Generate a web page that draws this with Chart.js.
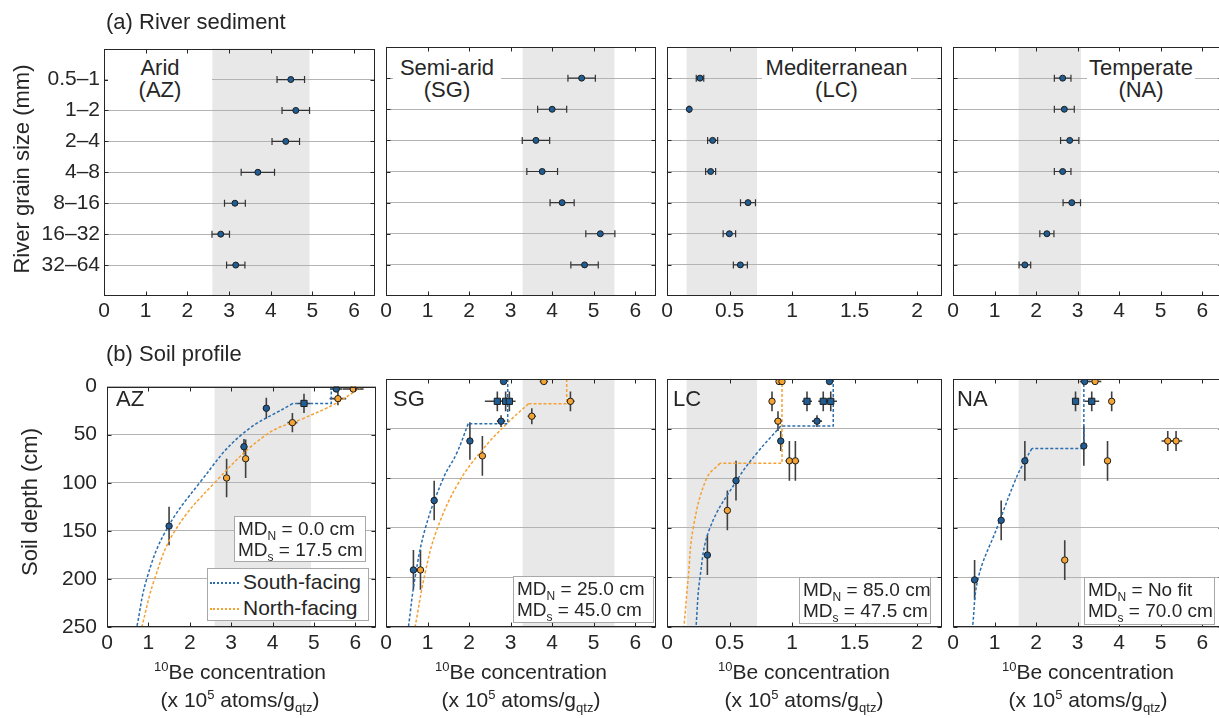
<!DOCTYPE html>
<html>
<head>
<meta charset="utf-8">
<script src="https://cdn.jsdelivr.net/npm/chart.js@4.4.1/dist/chart.umd.min.js"></script>
<style>
html, body { margin: 0; padding: 0; overflow: hidden; }
body { width: 1219px; height: 718px; position: relative; background: #fff;
       font-family: "Liberation Sans", Arial, sans-serif; color: #262626; }
canvas { position: absolute; }
.t { position: absolute; white-space: nowrap; z-index: 2; }
.head { font-size: 22px; line-height: 22px; }
.ytitle { font-size: 22px; line-height: 22px; width: 300px; text-align: center; transform: rotate(-90deg); }
.lbl { font-size: 22px; line-height: 22px; text-align: center; background: #fff; }
.tag { font-size: 22px; line-height: 22px; }
.md { background: #fff; border: 1px solid #a8a8a8; font-size: 19px; line-height: 21px;
      padding: 1px 3px; box-sizing: border-box; }
.md sub { font-size: 12px; line-height: 0; vertical-align: -5px; }
.leg { background: #fff; border: 1px solid #a8a8a8; font-size: 21px; line-height: 26px;
       padding: 0 2px; box-sizing: border-box; }
.leg span { display: inline-block; width: 29px; vertical-align: middle; margin-right: 4px; }
.xt { width: 300px; text-align: center; font-size: 21px; line-height: 28px; }
.xt sup { font-size: 13px; line-height: 0; vertical-align: 8px; }
.xt sub { font-size: 13px; line-height: 0; vertical-align: -5px; }
</style>
</head>
<body>
<div class="t head" style="left:106px;top:11px">(a) River sediment</div>
<div class="t head" style="left:106px;top:343px">(b) Soil profile</div>

<div class="t ytitle" style="left:-128px;top:158px">River grain size (mm)</div>
<div class="t ytitle" style="left:-120px;top:491px">Soil depth (cm)</div>

<div class="t lbl" style="left:108px;top:55px;width:104px;height:48px;padding-top:2px">Arid<br>(AZ)</div>
<div class="t lbl" style="left:393px;top:55px;width:108px;height:48px;padding-top:2px">Semi-arid<br>(SG)</div>
<div class="t lbl" style="left:762px;top:55px;width:149px;height:48px;padding-top:2px">Mediterranean<br>(LC)</div>
<div class="t lbl" style="left:1087px;top:55px;width:108px;height:48px;padding-top:2px">Temperate<br>(NA)</div>

<div class="t tag" style="left:116px;top:388px">AZ</div>
<div class="t tag" style="left:393px;top:388px">SG</div>
<div class="t tag" style="left:673px;top:388px">LC</div>
<div class="t tag" style="left:957px;top:388px">NA</div>

<div class="t md" style="left:234px;top:516px;width:132px;height:46px">MD<sub>N</sub> = 0.0 cm<br>MD<sub>s</sub> = 17.5 cm</div>
<div class="t md" style="left:513px;top:576px;width:141px;height:47px">MD<sub>N</sub> = 25.0 cm<br>MD<sub>s</sub> = 45.0 cm</div>
<div class="t md" style="left:799px;top:577px;width:132px;height:47px">MD<sub>N</sub> = 85.0 cm<br>MD<sub>s</sub> = 47.5 cm</div>
<div class="t md" style="left:1084px;top:577px;width:131px;height:48px">MD<sub>N</sub> = No fit<br>MD<sub>s</sub> = 70.0 cm</div>

<div class="t leg" style="left:207px;top:568px;width:162px;height:53px">
  <span style="border-top:2px dotted #2b6ead"></span>South-facing<br>
  <span style="border-top:2px dotted #f5a032"></span>North-facing
</div>

<div class="t xt" style="left:90px;top:658px"><sup>10</sup>Be concentration<br>(x 10<sup>5</sup> atoms/g<sub>qtz</sub>)</div>
<div class="t xt" style="left:371px;top:658px"><sup>10</sup>Be concentration<br>(x 10<sup>5</sup> atoms/g<sub>qtz</sub>)</div>
<div class="t xt" style="left:654px;top:658px"><sup>10</sup>Be concentration<br>(x 10<sup>5</sup> atoms/g<sub>qtz</sub>)</div>
<div class="t xt" style="left:938px;top:658px"><sup>10</sup>Be concentration<br>(x 10<sup>5</sup> atoms/g<sub>qtz</sub>)</div>

<script>
// ---- (a) river sediment: 10Be per grain size class ----
const grainSizes = ['0.5–1', '1–2', '2–4', '4–8', '8–16', '16–32', '32–64'];
const riverAZ    = [4.48, 4.60, 4.36, 3.69, 3.14, 2.80, 3.16];
const riverAZErr = [0.33, 0.33, 0.33, 0.40, 0.25, 0.21, 0.22];
const riverSG    = [4.71, 4.00, 3.61, 3.76, 4.24, 5.16, 4.78];
const riverSGErr = [0.33, 0.35, 0.33, 0.37, 0.29, 0.35, 0.33];
const riverLC    = [0.264, 0.178, 0.365, 0.349, 0.648, 0.499, 0.587];
const riverLCErr = [0.03, 0.005, 0.04, 0.04, 0.06, 0.05, 0.056];
const riverNA    = [2.64, 2.68, 2.81, 2.64, 2.86, 2.26, 1.73];
const riverNAErr = [0.20, 0.24, 0.22, 0.20, 0.21, 0.17, 0.14];

// shaded ranges (same in both rows)
const bandAZ = [2.6, 4.93];
const bandSG = [3.29, 5.5];
const bandLC = [0.157, 0.72];
const bandNA = [1.58, 3.08];

const concTicks = [0, 1, 2, 3, 4, 5, 6];
const concTicksLC = [0, 0.5, 1, 1.5, 2];
const depthTicks = [0, 50, 100, 150, 200, 250];

// ---- (b) soil profiles: [conc, depth, concErr, depthErr] ----
const azSouth   = [[5.54, 2.5, 0.15, 0], [3.85, 22.5, 0.08, 11], [3.31, 62.5, 0.08, 8], [1.50, 145, 0.05, 20]];
const azSouthSq = [[4.76, 17.5, 0.15, 10]];
const azNorth   = [[5.95, 2.5, 0.25, 0], [5.58, 12.5, 0.2, 7], [4.48, 37.5, 0.12, 10], [3.35, 75, 0.06, 20], [2.89, 95, 0.06, 20]];
const azStepSouth = [[5.42, 0], [5.42, 17.5], [4.49, 17.5]];
const azFitSouth  = [[4.49, 17.5], [3.25, 50], [2.24, 100], [1.42, 150], [0.96, 200], [0.72, 250]];
const azStepNorth = [];
const azFitNorth  = [[6.15, 0], [5.55, 17], [4.75, 33], [3.85, 50], [2.6, 100], [1.64, 150], [1.15, 200], [0.84, 250]];

const sgSouth   = [[2.83, 2.5, 0.05, 0], [2.77, 42.5, 0.1, 6], [2.02, 62.5, 0.05, 19], [1.16, 122.5, 0.05, 20], [0.66, 192.5, 0.05, 20]];
const sgSouthSq = [[2.68, 22.5, 0.3, 10], [2.88, 22.5, 0.1, 10], [2.97, 22.5, 0.15, 10]];
const sgNorth   = [[3.80, 2.5, 0.1, 0], [4.44, 22.5, 0.1, 10], [3.51, 37.5, 0.1, 8], [2.32, 77.5, 0.05, 20], [0.83, 192.5, 0.05, 20]];
const sgStepSouth = [[2.93, 0], [2.93, 45], [1.98, 45]];
const sgFitSouth  = [[1.98, 45], [1.70, 75], [1.38, 100], [0.95, 150], [0.70, 200], [0.54, 250]];
const sgStepNorth = [[4.35, 0], [4.35, 25], [3.43, 25]];
const sgFitNorth  = [[3.43, 25], [2.91, 45], [2.32, 71.5], [1.74, 105], [1.22, 152.5], [0.94, 196], [0.70, 250]];

const lcSouth   = [[1.30, 2.5, 0.02, 0], [1.20, 42.5, 0.04, 6], [0.91, 62.5, 0.02, 10], [0.552, 102.5, 0.01, 20], [0.323, 177.5, 0.01, 20]];
const lcSouthSq = [[1.12, 22.5, 0.04, 10], [1.25, 22.5, 0.04, 10], [1.31, 22.5, 0.05, 10]];
const lcNorth   = [[0.896, 2.5, 0.02, 0], [0.92, 2.5, 0.02, 0], [0.84, 22.5, 0.02, 10], [0.888, 42.5, 0.03, 10],
                   [0.979, 82.5, 0.03, 20], [1.027, 82.5, 0.03, 20], [0.483, 132.5, 0.01, 20]];
const lcStepSouth = [[1.33, 0], [1.33, 47.5], [0.91, 47.5]];
const lcFitSouth  = [[0.91, 47.5], [0.717, 75], [0.57, 100], [0.344, 150], [0.264, 200], [0.232, 250]];
const lcStepNorth = [[0.92, 0], [0.92, 85], [0.424, 85]];
const lcFitNorth  = [[0.424, 85], [0.317, 100], [0.21, 150], [0.17, 200], [0.136, 250]];

const naSouth   = [[3.17, 2.5, 0.12, 0], [3.15, 67.5, 0.04, 20], [1.73, 82.5, 0.04, 20], [1.16, 142.5, 0.04, 20], [0.52, 202.5, 0.04, 20]];
const naSouthSq = [[2.95, 22.5, 0.06, 10], [3.34, 22.5, 0.18, 10]];
const naNorth   = [[3.42, 2.5, 0.15, 0], [3.82, 22.5, 0.05, 10], [5.17, 62.5, 0.15, 10], [5.37, 62.5, 0.15, 10],
                   [3.72, 82.5, 0.04, 20], [2.69, 182.5, 0.04, 20]];
const naStepSouth = [[3.15, 0], [3.15, 70], [1.90, 70]];
const naFitSouth  = [[1.90, 70], [1.73, 82.5], [1.52, 100], [1.06, 150], [0.61, 200], [0.47, 250]];

// ---- styling ----
const BLUE = '#1f5d94';
const ORANGE = '#f6a431';
const BLUE_LINE = '#2b6ead';
const ORANGE_LINE = '#f5a032';
const EDGE = '#1e1e1e';
const AXIS = '#262626';
const FONT = '"Liberation Sans", Arial, sans-serif';

Chart.defaults.font.family = FONT;
Chart.defaults.color = AXIS;
Chart.defaults.animation = false;

const decor = {
    id: 'decor',
    beforeDraw(chart, args, opts) {
        const { ctx, chartArea: a, scales: { x } } = chart;
        if (!opts.band) return;
        const x0 = x.getPixelForValue(opts.band[0]);
        const x1 = x.getPixelForValue(opts.band[1]);
        ctx.save();
        ctx.fillStyle = '#e8e8e8';
        ctx.fillRect(x0, a.top, x1 - x0, a.bottom - a.top);
        ctx.restore();
    },
    beforeDatasetsDraw(chart, args, opts) {
        const { ctx, scales: { x, y } } = chart;
        ctx.save();
        chart.data.datasets.forEach(ds => {
            if (!ds.errX) return;
            ctx.strokeStyle = opts.caps ? '#333' : '#404040';
            ctx.lineWidth = opts.caps ? 1.2 : 1.6;
            ds.data.forEach((p, i) => {
                const px = x.getPixelForValue(p.x), py = y.getPixelForValue(p.y);
                const ex = ds.errX[i] || 0, ey = ds.errY ? ds.errY[i] : 0;
                ctx.beginPath();
                if (ex) {
                    const l = x.getPixelForValue(p.x - ex), r = x.getPixelForValue(p.x + ex);
                    ctx.moveTo(l, py); ctx.lineTo(r, py);
                    if (opts.caps) {
                        ctx.moveTo(l, py - 3.5); ctx.lineTo(l, py + 3.5);
                        ctx.moveTo(r, py - 3.5); ctx.lineTo(r, py + 3.5);
                    }
                }
                if (ey) {
                    ctx.moveTo(px, y.getPixelForValue(p.y - ey));
                    ctx.lineTo(px, y.getPixelForValue(p.y + ey));
                }
                ctx.stroke();
            });
        });
        ctx.restore();
    },
    afterDraw(chart) {
        const { ctx, chartArea: a, scales: { x, y } } = chart;
        const L = Math.round(a.left) + 0.5, R = Math.round(a.right) - 0.5;
        const T = Math.round(a.top) + 0.5, B = Math.round(a.bottom) - 0.5;
        ctx.save();
        ctx.strokeStyle = AXIS;
        ctx.lineWidth = 1;
        ctx.beginPath();
        x.ticks.forEach(t => {
            const px = Math.round(x.getPixelForValue(t.value)) + 0.5;
            ctx.moveTo(px, B); ctx.lineTo(px, B - 4);
            ctx.moveTo(px, T); ctx.lineTo(px, T + 4);
        });
        y.ticks.forEach(t => {
            const py = Math.round(y.getPixelForValue(t.value)) + 0.5;
            ctx.moveTo(L, py); ctx.lineTo(L + 4, py);
            ctx.moveTo(R, py); ctx.lineTo(R - 4, py);
        });
        ctx.stroke();
        ctx.strokeRect(L, T, R - L, B - T);
        ctx.restore();
    }
};

function makePanel(p) {
    const padT = 15, padR = 15, padB = 40;
    const w = p.padL + p.w + padR, h = padT + p.h + padB;
    const c = document.createElement('canvas');
    c.width = w; c.height = h;
    c.style.left = (p.left - p.padL) + 'px';
    c.style.top = (p.top - padT) + 'px';
    c.style.width = w + 'px';
    c.style.height = h + 'px';
    document.body.appendChild(c);

    new Chart(c.getContext('2d'), {
        type: 'scatter',
        data: { datasets: p.datasets },
        plugins: [decor],
        options: {
            responsive: false,
            events: [],
            layout: { padding: { top: padT, right: padR, left: 0, bottom: 0 } },
            plugins: {
                legend: { display: false },
                tooltip: { enabled: false },
                decor: { band: p.band, caps: p.caps }
            },
            scales: {
                x: {
                    type: 'linear', min: 0, max: p.xMax,
                    afterBuildTicks: s => { s.ticks = p.xTicks.map(v => ({ value: v })); },
                    afterFit: s => { s.height = padB; },
                    grid: { display: false, drawTicks: false },
                    border: { display: false },
                    ticks: { font: { size: 21 }, padding: p.xPad, maxRotation: 0, color: AXIS,
                             callback: v => String(v) }
                },
                y: {
                    type: 'linear', min: p.yMin, max: p.yMax, reverse: true,
                    afterBuildTicks: s => { s.ticks = p.yTicks.map(v => ({ value: v })); },
                    afterFit: s => { s.width = p.padL; },
                    grid: { color: '#b3b3b3', lineWidth: 1, drawTicks: false },
                    border: { display: false },
                    ticks: {
                        display: p.showY, font: { size: 21 }, padding: p.yPad || 4, color: AXIS,
                        callback: p.yLabel
                    }
                }
            }
        }
    });
}

function riverDatasets(vals, errs) {
    return [{
        data: vals.map((v, i) => ({ x: v, y: i + 1 })),
        errX: errs,
        pointRadius: 3, backgroundColor: BLUE, borderColor: EDGE, borderWidth: 1
    }];
}

function pts(arr) { return arr.map(r => ({ x: r[0], y: r[1] })); }

function soilDatasets(south, southSq, north, stepS, fitS, stepN, fitN) {
    const ds = [
        { data: pts(north), errX: north.map(r => r[2]), errY: north.map(r => r[3]),
          pointRadius: 3.2, backgroundColor: ORANGE, borderColor: EDGE, borderWidth: 1, order: 1 },
        { data: pts(south), errX: south.map(r => r[2]), errY: south.map(r => r[3]),
          pointRadius: 3.2, backgroundColor: BLUE, borderColor: EDGE, borderWidth: 1, order: 0 },
        { data: pts(southSq), errX: southSq.map(r => r[2]), errY: southSq.map(r => r[3]),
          pointStyle: 'rect', pointRadius: 4.4, backgroundColor: BLUE, borderColor: EDGE, borderWidth: 1, order: 0 }
    ];
    const line = (arr, color, tension) => ({
        type: 'line', data: pts(arr), borderColor: color, borderWidth: 1.5, borderDash: [3, 2],
        pointRadius: 0, fill: false, tension: tension, order: 3
    });
    if (stepS.length) ds.push(line(stepS, BLUE_LINE, 0));
    if (fitS.length) ds.push(line(fitS, BLUE_LINE, 0.4));
    if (stepN.length) ds.push(line(stepN, ORANGE_LINE, 0));
    if (fitN.length) ds.push(line(fitN, ORANGE_LINE, 0.4));
    return ds;
}

const grainTicks = grainSizes.map((g, i) => i + 1);
const grainLabel = v => grainSizes[v - 1];
const topRow = { top: 47, h: 249, yMin: 0, yMax: 8, yTicks: grainTicks, yLabel: grainLabel, caps: true, xPad: 3 };
const botRow = { top: 379, h: 248, yMin: 0, yMax: 250, yTicks: depthTicks, yLabel: v => v, caps: false, xPad: 4 };

// row (a)
makePanel(Object.assign({}, topRow, { left: 104, w: 271, padL: 104, xMax: 6.5, xTicks: concTicks, band: bandAZ,
    showY: true, yPad: 4, datasets: riverDatasets(riverAZ, riverAZErr) }));
makePanel(Object.assign({}, topRow, { left: 386, w: 270, padL: 15, xMax: 6.5, xTicks: concTicks, band: bandSG,
    showY: false, datasets: riverDatasets(riverSG, riverSGErr) }));
makePanel(Object.assign({}, topRow, { left: 667, w: 275, padL: 15, xMax: 2.2, xTicks: concTicksLC, band: bandLC,
    showY: false, datasets: riverDatasets(riverLC, riverLCErr) }));
makePanel(Object.assign({}, topRow, { left: 953, w: 270, padL: 15, xMax: 6.5, xTicks: concTicks, band: bandNA,
    showY: false, datasets: riverDatasets(riverNA, riverNAErr) }));

// row (b)
makePanel(Object.assign({}, botRow, { left: 107, w: 269, padL: 107, xMax: 6.5, xTicks: concTicks, band: bandAZ,
    showY: true, yPad: 10,
    datasets: soilDatasets(azSouth, azSouthSq, azNorth, azStepSouth, azFitSouth, azStepNorth, azFitNorth) }));
makePanel(Object.assign({}, botRow, { left: 386, w: 270, padL: 15, xMax: 6.5, xTicks: concTicks, band: bandSG,
    showY: false, datasets: soilDatasets(sgSouth, sgSouthSq, sgNorth, sgStepSouth, sgFitSouth, sgStepNorth, sgFitNorth) }));
makePanel(Object.assign({}, botRow, { left: 667, w: 275, padL: 15, xMax: 2.2, xTicks: concTicksLC, band: bandLC,
    showY: false, datasets: soilDatasets(lcSouth, lcSouthSq, lcNorth, lcStepSouth, lcFitSouth, lcStepNorth, lcFitNorth) }));
makePanel(Object.assign({}, botRow, { left: 953, w: 270, padL: 15, xMax: 6.5, xTicks: concTicks, band: bandNA,
    showY: false, datasets: soilDatasets(naSouth, naSouthSq, naNorth, naStepSouth, naFitSouth, [], []) }));
</script>
</body>
</html>
